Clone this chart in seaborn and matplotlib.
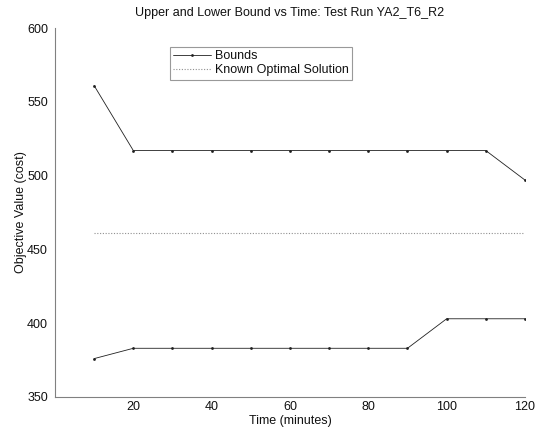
import matplotlib
matplotlib.use("Agg")
import matplotlib.pyplot as plt
import seaborn as sns
import pandas as pd

time_min = [10, 20, 30, 40, 50, 60, 70, 80, 90, 100, 110, 120]
upper_bound = [561, 517, 517, 517, 517, 517, 517, 517, 517, 517, 517, 497]
lower_bound = [376, 383, 383, 383, 383, 383, 383, 383, 383, 403, 403, 403]
optimal_value = 461

sns.set_style("white")
plt.rcParams['font.family'] = ['Liberation Sans', 'DejaVu Sans']
plt.rcParams['text.color'] = '#111111'
plt.rcParams['axes.labelcolor'] = '#111111'
plt.rcParams['xtick.labelcolor'] = '#111111'
plt.rcParams['ytick.labelcolor'] = '#111111'

df = pd.DataFrame({"time": time_min, "upper": upper_bound, "lower": lower_bound,
                   "opt": [optimal_value] * len(time_min)})

fig = plt.figure(figsize=(5.39, 4.34), dpi=100)
ax = fig.add_axes([0.102, 0.0853, 0.872, 0.850])

sns.lineplot(data=df, x="time", y="upper", ax=ax, color="#202020", lw=0.6,
             marker="o", markersize=2, markeredgewidth=0, label="Bounds")
sns.lineplot(data=df, x="time", y="lower", ax=ax, color="#202020", lw=0.6,
             marker="o", markersize=2, markeredgewidth=0, label="_nolegend_")
sns.lineplot(data=df, x="time", y="opt", ax=ax, color="#909090", lw=0.8,
             linestyle=(0, (1, 1.5)), label="Known Optimal Solution")

ax.set_xlim(0, 120)
ax.set_ylim(350, 600)
ax.set_xticks([20, 40, 60, 80, 100, 120])
ax.set_yticks([350, 400, 450, 500, 550, 600])
ax.set_xlabel("Time (minutes)", fontsize=9, labelpad=1)
ax.set_ylabel("Objective Value (cost)", fontsize=9, labelpad=0)
ax.set_title("Upper and Lower Bound vs Time: Test Run YA2_T6_R2", fontsize=9, pad=9)

for s in ["top", "right"]:
    ax.spines[s].set_visible(False)
for s in ["left", "bottom"]:
    ax.spines[s].set_color("#808080")
    ax.spines[s].set_linewidth(0.8)
ax.tick_params(axis="x", direction="in", length=4, color="#808080", labelsize=9, pad=3)
ax.tick_params(axis="y", direction="out", length=3, color="#808080", labelsize=9, pad=2)

leg = ax.legend(loc="upper left", bbox_to_anchor=(0.244, 0.95), fontsize=9,
                frameon=True, fancybox=False, numpoints=1, handlelength=3.0,
                borderpad=0.3, labelspacing=0.15, handletextpad=0.3, borderaxespad=0)
leg.get_frame().set_edgecolor("#808080")
leg.get_frame().set_linewidth(0.8)

fig.savefig("out.png", dpi=100)
